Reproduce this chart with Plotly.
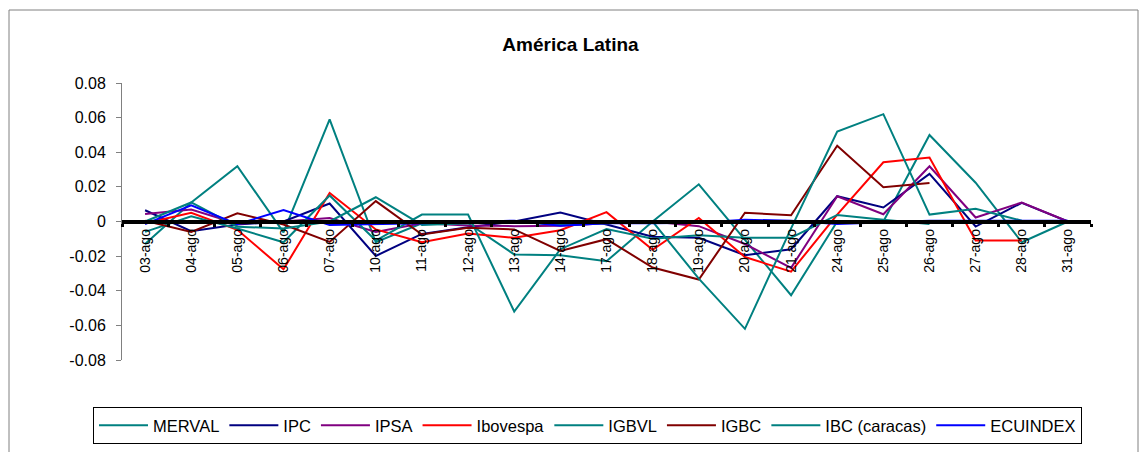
import plotly.graph_objects as go

categories = ["03-ago", "04-ago", "05-ago", "06-ago", "07-ago", "10-ago", "11-ago", "12-ago",
              "13-ago", "14-ago", "17-ago", "18-ago", "19-ago", "20-ago", "21-ago", "24-ago",
              "25-ago", "26-ago", "27-ago", "28-ago", "31-ago"]

merval = [-0.013, 0.011, 0.032, -0.0063, 0.059, -0.012, -0.001, -0.001, -0.019, -0.0195, -0.023,
          0.000, 0.0215, -0.0106, -0.0426, 0.000, 0.000, 0.050, 0.0224, -0.012, 0.000]
ipc = [0.0065, -0.0056, -0.0017, 0.000, 0.0104, -0.0199, -0.0072, -0.0033, 0.000, 0.0052, -0.0017,
       -0.0088, -0.0094, -0.0195, -0.016, 0.0146, 0.0081, 0.0275, -0.0029, 0.0108, 0.000]
ipsa = [0.0044, 0.0069, -0.0013, 0.000, 0.002, -0.006, -0.001, -0.0023, -0.0027, -0.0025, -0.001,
        0.000, -0.0027, -0.013, -0.0268, 0.0146, 0.0042, 0.0319, 0.0023, 0.011, 0.000]
ibovespa = [-0.001, 0.005, -0.0048, -0.0276, 0.0165, -0.0046, -0.012, -0.007, -0.0094, -0.005, 0.0054,
            -0.0163, 0.002, -0.0205, -0.029, 0.004, 0.0342, 0.0369, -0.011, -0.011, None]
igbvl = [-0.006, 0.003, -0.004, -0.012, 0.015, -0.011, 0.004, 0.004, -0.052, -0.016, -0.0044,
         -0.010, -0.008, -0.0094, -0.0094, 0.0038, 0.001, -0.0015, None, None, None]
igbc = [0.0004, -0.006, 0.0047, -0.0017, -0.0118, 0.0118, -0.0075, -0.0036, -0.0046, -0.017, -0.0102,
        -0.0266, -0.0335, 0.0051, 0.0036, 0.0438, 0.0198, 0.0223, None, None, None]
ibc = [0.000, 0.011, -0.003, -0.004, 0.000, 0.014, -0.002, -0.001, 0.000, -0.002, -0.001,
       0.000, -0.033, -0.062, -0.004, 0.052, 0.062, 0.004, 0.0073, 0.0005, 0.000]
ecuindex = [-0.0015, 0.0093, -0.0015, 0.0066, -0.002, -0.0013, -0.001, -0.0005, 0.0005, -0.0024, -0.001,
            -0.001, -0.0007, 0.001, 0.0005, -0.0015, -0.0005, 0.0005, 0.0005, 0.0005, 0.0005]

series = [
    ("MERVAL", merval, "#008080"),
    ("IPC", ipc, "#000080"),
    ("IPSA", ipsa, "#800080"),
    ("Ibovespa", ibovespa, "#FF0000"),
    ("IGBVL", igbvl, "#008080"),
    ("IGBC", igbc, "#800000"),
    ("IBC (caracas)", ibc, "#008080"),
    ("ECUINDEX", ecuindex, "#0000FF"),
]

y_ticks = [0.08, 0.06, 0.04, 0.02, 0, -0.02, -0.04, -0.06, -0.08]
y_tick_text = ["0.08", "0.06", "0.04", "0.02", "0", "-0.02", "-0.04", "-0.06", "-0.08"]

FONT = "Liberation Sans, Arial, sans-serif"

fig = go.Figure()
for name, vals, color in series:
    fig.add_trace(go.Scatter(x=categories, y=vals, name=name, mode="lines",
                             line=dict(color=color, width=2), connectgaps=False))

fig.update_layout(
    width=1147, height=452,
    margin=dict(l=114, r=64, t=75, b=100, autoexpand=False),
    paper_bgcolor="white", plot_bgcolor="white",
    font=dict(family=FONT, size=14, color="black"),
    title=dict(text="<b>América Latina</b>", x=0.4904, xanchor="center", y=0.920, yanchor="middle",
               font=dict(family=FONT, size=19, color="black")),
    showlegend=True,
    legend=dict(orientation="h", x=-29 / 969, xanchor="left",
                y=-0.1697, yanchor="top",
                bordercolor="black", borderwidth=1, font=dict(family=FONT, size=16.5),
                itemwidth=49, tracegroupgap=0),
    xaxis=dict(type="category", range=[-0.5, 20.5], anchor="free", position=0.5,
               showline=True, linecolor="black", linewidth=4,
               ticks="outside", ticklen=3, tickwidth=3, tickcolor="black", tickson="boundaries",
               tickangle=-90, tickfont=dict(family=FONT, size=14),
               showgrid=False, zeroline=False),
    yaxis=dict(range=[-0.08, 0.08], tickvals=y_ticks, ticktext=y_tick_text,
               showline=True, linecolor="#808080", linewidth=1,
               ticks="outside", ticklen=5, tickcolor="#808080", ticklabelstandoff=7,
               showgrid=False, zeroline=False, tickfont=dict(family=FONT, size=16)),
    shapes=[dict(type="rect", xref="paper", yref="paper",
                 x0=(1 - 114) / 969, x1=(1130 - 114) / 969, y0=-110 / 277, y1=(352 - 2) / 277,
                 line=dict(color="#808080", width=1), fillcolor="rgba(0,0,0,0)", layer="below")],
)

fig.write_html("out.html")
